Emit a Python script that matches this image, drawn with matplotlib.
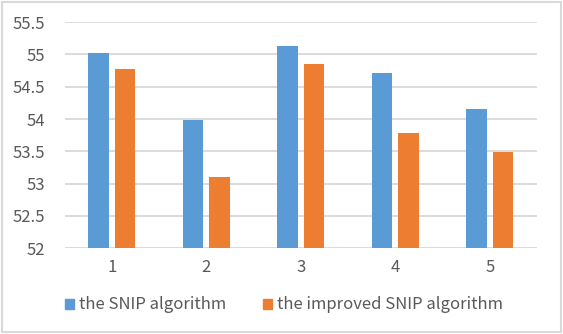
import matplotlib.pyplot as plt
import numpy as np
from matplotlib.patches import Rectangle, Patch

plt.rcParams['font.family'] = ['Noto Sans CJK SC', 'DejaVu Sans']

categories = ['1', '2', '3', '4', '5']
snip = [55.02, 53.98, 55.13, 54.71, 54.16]
improved = [54.78, 53.10, 54.85, 53.78, 53.49]
series_names = ['the SNIP algorithm', 'the improved SNIP algorithm']

blue = '#5B9BD5'
orange = '#ED7D31'
text_col = '#595959'
grid_col = '#D9D9D9'

fig = plt.figure(figsize=(5.63, 3.34), dpi=100)
ax = fig.add_axes([0.1146, 0.2566, 0.8394, 0.6774])

x = np.arange(len(categories))
w = 0.217
gap = 0.06
ax.bar(x - (w + gap) / 2, snip, w, color=blue, zorder=2)
ax.bar(x + (w + gap) / 2, improved, w, color=orange, zorder=2)

ax.set_ylim(52, 55.5)
ax.set_xlim(-0.5, len(categories) - 0.5)
yt = np.arange(52, 55.51, 0.5)
ax.set_yticks(yt)
ax.set_yticklabels(['%g' % v for v in yt])
ax.set_xticks(x)
ax.set_xticklabels(categories)
ax.grid(axis='y', color=grid_col, linewidth=1.3, zorder=0)
for s in ax.spines.values():
    s.set_visible(False)
ax.tick_params(length=0, labelsize=12, colors=text_col)
ax.tick_params(axis='y', pad=14)
ax.tick_params(axis='x', pad=8)

handles = [Patch(color=blue), Patch(color=orange)]
leg = fig.legend(handles, series_names, loc='center', bbox_to_anchor=(0.505, 0.087),
                 ncol=2, frameon=False, fontsize=12, handlelength=0.55, handleheight=0.55,
                 handletextpad=0.3, columnspacing=2.2, labelcolor=text_col)

fig.patches.append(Rectangle((0.003, 0.005), 0.994, 0.99, transform=fig.transFigure,
                             fill=False, edgecolor=grid_col, linewidth=1.5))

fig.savefig('out.png', dpi=100)
